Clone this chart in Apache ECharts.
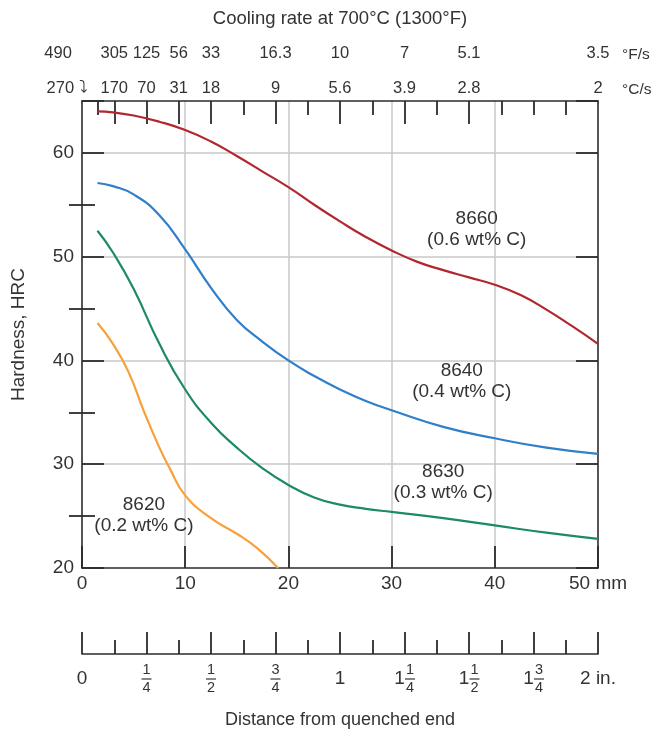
<!DOCTYPE html>
<html>
<head>
<meta charset="utf-8">
<script src="https://cdn.jsdelivr.net/npm/echarts@6/dist/echarts.min.js"></script>
<style>
  html, body { margin: 0; padding: 0; background: #fff; }
  #main { width: 651px; height: 733px; }
</style>
</head>
<body>
<div id="main"></div>
<script>
// hardness (HRC) vs distance from quenched end (mm)
const mm8660 = [1.5, 3, 5, 7.5, 10, 12.5, 15, 17.5, 20, 22.5, 25, 27.5, 30, 32.5, 35, 37.5, 40, 42.5, 45, 47.5, 50];
const hrc8660 = [64.0, 63.9, 63.6, 63.0, 62.2, 61.1, 59.7, 58.2, 56.7, 55.0, 53.4, 51.9, 50.6, 49.5, 48.7, 48.0, 47.3, 46.3, 44.9, 43.3, 41.6];
const mm8640 = [1.5, 3, 5, 7.5, 10, 12.5, 15, 17.5, 20, 22.5, 25, 27.5, 30, 35, 40, 45, 50];
const hrc8640 = [57.1, 56.8, 56.0, 54.0, 50.7, 47.0, 43.9, 41.8, 40.0, 38.5, 37.2, 36.1, 35.2, 33.6, 32.5, 31.6, 31.0];
const mm8630 = [1.5, 3, 5, 7.5, 10, 12.5, 15, 17.5, 20, 22.5, 25, 27.5, 30, 35, 40, 45, 50];
const hrc8630 = [52.5, 50.4, 46.9, 41.6, 37.2, 34.0, 31.6, 29.6, 28.0, 26.8, 26.1, 25.7, 25.4, 24.8, 24.1, 23.4, 22.8];
const mm8620 = [1.5, 3, 4.5, 6, 7.5, 8.5, 10, 12.5, 15, 17, 19];
const hrc8620 = [43.6, 41.6, 38.9, 35.1, 31.6, 29.6, 27.0, 24.8, 23.3, 21.9, 20.0];

// cooling rate scale (positions in inches from quenched end)
const ratePos = [1 / 16, 1 / 8, 1 / 4, 3 / 8, 1 / 2, 3 / 4, 1, 1.25, 1.5, 2];
const rateF = ['490', '305', '125', '56', '33', '16.3', '10', '7', '5.1', '3.5'];
const rateC = ['270', '170', '70', '31', '18', '9', '5.6', '3.9', '2.8', '2'];
const longTicks = [1 / 8, 1 / 4, 3 / 8, 1 / 2, 3 / 4, 1, 1.25, 1.5];
const shortTicks = [1 / 16, 5 / 8, 7 / 8, 1.125, 1.375, 1.625, 1.75, 1.875];
const minorHrc = [25, 35, 45, 55];

// inch scale labels
const inchWhole = ['0', '', '', '', '1', '1', '1', '1', '2 in.'];
const inchNum = ['', '1', '1', '3', '', '1', '1', '3', ''];
const inchDen = ['', '4', '2', '4', '', '4', '2', '4', ''];

const steels = ['8660\n(0.6 wt% C)', '8640\n(0.4 wt% C)', '8630\n(0.3 wt% C)', '8620\n(0.2 wt% C)'];

const txt = '#333';
const ink = '#2b2b2b';
const font = "'Liberation Sans', Arial, sans-serif";
const lineSt = { color: ink, width: 1.6 };
const tickSt = { color: ink, width: 1.8 };

function rateIdx(v) {
  for (let i = 0; i < ratePos.length; i++) if (Math.abs(ratePos[i] - v) < 1e-6) return i;
  return -1;
}

function inchFmt(v) {
  const i = Math.round(v * 4);
  const w = inchWhole[i], n = inchNum[i], d = inchDen[i];
  if (!n) return '{plain|' + w + '}';
  if (!w) return '{n|' + n + '}\n{bar| }\n{d|' + d + '}';
  return '{sp| }{n|' + n + '}\n{w|' + w + '}{bar| }\n{sp| }{d|' + d + '}';
}

function zip(xs, ys) { return xs.map((x, i) => [x, ys[i]]); }

const labelAt = [[38.25, 52.6], [36.8, 37.95], [35.0, 28.27], [6.0, 25.1]];
const colors = ['#b2262e', '#2f7fc9', '#1d8b62', '#f8a03a'];
const curves = [zip(mm8660, hrc8660), zip(mm8640, hrc8640), zip(mm8630, hrc8630), zip(mm8620, hrc8620)];

var myChart = echarts.init(document.getElementById('main'));
myChart.setOption({
  animation: false,
  backgroundColor: '#fff',
  textStyle: { fontFamily: font, color: txt },
  grid: { left: 82, top: 101, width: 516, height: 467, outerBoundsMode: 'none' },
  xAxis: [
    { // mm scale
      type: 'value', position: 'bottom', min: 0, max: 50, interval: 10,
      axisLine: { show: true, onZero: false, lineStyle: lineSt },
      axisTick: { show: true, inside: true, length: 22, lineStyle: tickSt },
      axisLabel: { fontSize: 19, color: txt, margin: 6, formatter: v => v === 50 ? '50 mm' : String(v) },
      splitLine: { show: true, showMinLine: false, showMaxLine: false, lineStyle: { color: '#c9c9c9', width: 1.5 } }
    },
    { // top: °C/s
      type: 'value', position: 'top', min: 0, max: 2,
      axisLine: { show: true, onZero: false, lineStyle: lineSt },
      axisTick: { show: true, inside: true, length: 23, customValues: longTicks, lineStyle: tickSt },
      axisLabel: {
        fontSize: 16.5, color: txt, margin: 4, customValues: ratePos,
        formatter: v => { const i = rateIdx(v); return i === 0 ? '{first|' + rateC[0] + ' \u2935}' : rateC[i]; },
        rich: { first: { fontSize: 16.5, color: txt, padding: [0, 62, 0, 0] } }
      },
      splitLine: { show: false },
      name: '°C/s', nameLocation: 'end', nameGap: 24,
      nameTextStyle: { fontSize: 15.5, color: txt, verticalAlign: 'bottom', padding: [0, 0, 3, 0] }
    },
    { // top: °F/s
      type: 'value', position: 'top', offset: 35, min: 0, max: 2,
      axisLine: { show: false }, axisTick: { show: false },
      axisLabel: {
        fontSize: 16.5, color: txt, margin: 4, customValues: ratePos,
        formatter: v => { const i = rateIdx(v); return i === 0 ? '{first|' + rateF[0] + '}' : rateF[i]; },
        rich: { first: { fontSize: 16.5, color: txt, padding: [0, 80, 0, 0] } }
      },
      splitLine: { show: false },
      name: '°F/s', nameLocation: 'end', nameGap: 24,
      nameTextStyle: { fontSize: 15.5, color: txt, verticalAlign: 'bottom', padding: [0, 0, 3, 0] }
    },
    { // top: short ticks + title
      type: 'value', position: 'top', min: 0, max: 2,
      axisLine: { show: false },
      axisTick: { show: true, inside: true, length: 14, customValues: shortTicks, lineStyle: tickSt },
      axisLabel: { show: false }, splitLine: { show: false },
      name: 'Cooling rate at 700°C (1300°F)', nameLocation: 'middle', nameGap: 73,
      nameTextStyle: { fontSize: 18.5, color: txt }
    },
    { // inch scale
      type: 'value', position: 'bottom', offset: 86, min: 0, max: 2, interval: 0.25,
      axisLine: { show: true, onZero: false, lineStyle: lineSt },
      axisTick: { show: true, inside: true, length: 22, lineStyle: tickSt },
      minorTick: { show: true, splitNumber: 2, length: 14, lineStyle: tickSt },
      axisLabel: {
        margin: 25, verticalAlign: 'middle', color: txt, formatter: inchFmt,
        rich: {
          plain: { fontSize: 19, color: txt, lineHeight: 19 },
          n: { fontSize: 14.5, color: txt, width: 10, align: 'center', lineHeight: 14 },
          d: { fontSize: 14.5, color: txt, width: 10, align: 'center', lineHeight: 14 },
          w: { fontSize: 19, color: txt, width: 11, align: 'center', lineHeight: 4 },
          sp: { width: 11, fontSize: 14.5, lineHeight: 14 },
          bar: { width: 10, height: 1.3, lineHeight: 4, backgroundColor: '#444', fontSize: 4 }
        }
      },
      splitLine: { show: false },
      name: 'Distance from quenched end', nameLocation: 'middle', nameGap: 57,
      nameTextStyle: { fontSize: 18, color: txt }
    }
  ],
  yAxis: [
    {
      type: 'value', position: 'left', min: 20, max: 65, interval: 10,
      axisLine: { show: true, onZero: false, lineStyle: lineSt },
      axisTick: { show: true, inside: true, length: 22, lineStyle: tickSt },
      axisLabel: { fontSize: 19, color: txt, margin: 8, formatter: v => v === 65 ? '' : String(v) },
      splitLine: { show: true, showMinLine: false, showMaxLine: false, lineStyle: { color: '#c9c9c9', width: 1.5 } },
      name: 'Hardness, HRC', nameLocation: 'middle', nameGap: 54,
      nameTextStyle: { fontSize: 19, color: txt }
    },
    {
      type: 'value', position: 'right', min: 20, max: 65, interval: 10,
      axisLine: { show: true, onZero: false, lineStyle: lineSt },
      axisTick: { show: true, inside: true, length: 22, lineStyle: tickSt },
      axisLabel: { show: false }, splitLine: { show: false }
    },
    {
      type: 'value', position: 'left', min: 20, max: 65,
      axisLine: { show: false },
      axisTick: { show: true, inside: true, length: 13, customValues: minorHrc, lineStyle: tickSt },
      axisLabel: { show: false }, splitLine: { show: false }
    },
    {
      type: 'value', position: 'right', min: 20, max: 65,
      axisLine: { show: false },
      axisTick: { show: true, inside: true, length: 13, customValues: minorHrc, lineStyle: tickSt },
      axisLabel: { show: false }, splitLine: { show: false }
    }
  ],
  series: curves.map((d, i) => ({
    type: 'line',
    xAxisIndex: 0,
    yAxisIndex: 0,
    data: d,
    smooth: 0.5,
    symbol: 'none',
    lineStyle: { color: colors[i], width: 2.2 },
    markPoint: {
      symbol: 'circle', symbolSize: 0, silent: true,
      label: { show: true, position: 'inside', formatter: '{b}', fontSize: 19, lineHeight: 21, color: txt },
      data: [{ name: steels[i], coord: labelAt[i] }]
    }
  }))
});
</script>
</body>
</html>
